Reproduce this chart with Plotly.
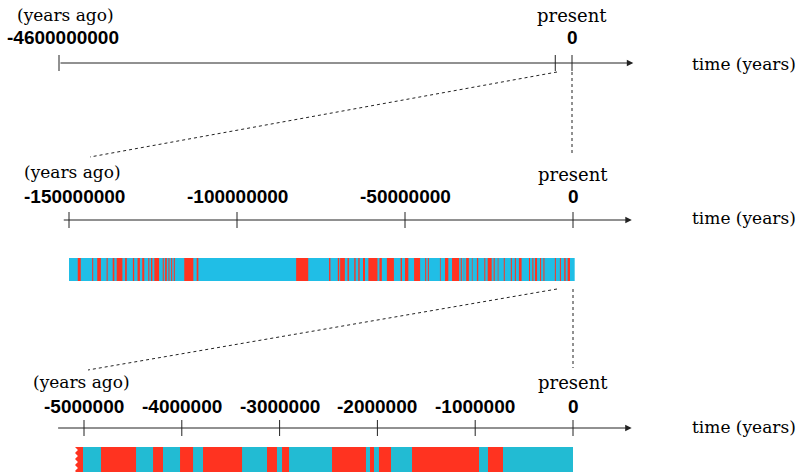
import plotly.graph_objects as go

W, H = 803, 472

# ---------------- data ----------------
top_ticks = [-4600000000, 0]
top_zoom_tick = -150000000
mid_ticks = [-150000000, -100000000, -50000000, 0]
bot_ticks = [-5000000, -4000000, -3000000, -2000000, -1000000, 0]

# reversed-polarity intervals (Ma ago: older, younger), middle bar (0-150 Ma)
mid_reversed = [
    (147.4, 146.5), (143.1, 142.8), (141.6, 140.5), (138.8, 138.5), (137.0, 136.5),
    (135.8, 134.1), (133.3, 132.8), (131.0, 130.6), (129.6, 128.9), (128.2, 127.6),
    (126.4, 126.1), (125.6, 125.2), (124.6, 123.2), (122.1, 121.8), (121.4, 120.9),
    (120.4, 120.1), (119.6, 119.3), (118.8, 118.5), (115.7, 113.0), (112.0, 111.5),
    (82.4, 78.8), (72.6, 72.2), (70.0, 69.6), (69.3, 67.9), (67.1, 66.7),
    (65.1, 64.7), (63.9, 63.5), (62.5, 61.9), (60.9, 58.2), (57.6, 56.9),
    (55.4, 53.3), (51.3, 50.9), (50.0, 49.0), (47.3, 45.5), (44.0, 43.7),
    (43.2, 42.9), (39.6, 39.4), (38.1, 37.1), (36.0, 33.9), (33.4, 33.1),
    (32.5, 32.4), (31.8, 31.0), (30.1, 29.9), (28.6, 28.2), (26.4, 26.1),
    (25.4, 24.2), (23.6, 23.3), (22.4, 22.2), (20.6, 20.3), (18.5, 18.2),
    (17.3, 17.0), (16.1, 15.3), (13.1, 12.8), (12.1, 11.8), (11.3, 10.7),
    (9.8, 9.5), (8.8, 8.5), (5.4, 5.1), (3.9, 3.6), (2.6, 2.2), (1.6, 0.9),
]
mid_span = (150.0, -0.5)

# bottom bar (0-5 Ma)
bot_reversed = [
    (4.826, 4.468), (4.294, 4.192), (4.018, 3.885), (3.783, 3.384),
    (3.129, 3.027), (2.975, 2.904), (2.464, 2.117), (2.076, 2.035),
    (1.984, 1.861), (1.646, 0.961), (0.869, 0.716),
]
bot_span = (5.010, 0.0)
bot_jagged = (5.092, 5.010)   # reversed interval cut by the zig-zag edge

BLUE_MID = "#20BEE6"
BLUE_BOT = "#22BBD3"
RED = "#FF3320"
INK = "#222222"
TXT = "#000000"

SERIF = "DejaVu Serif"
SANS = "Liberation Sans"


def pixrange(v0, p0, v1, p1):
    """axis range so that value v0 lands on pixel p0 and v1 on pixel p1"""
    s = (p1 - p0) / (v1 - v0)
    return [v0 - p0 / s, v0 + (W - p0) / s]


rows = {
    "x": dict(rng=pixrange(0, 572, -4600000000, 59), axis_y=63, start=-4600000000, tip=5.5e8),
    "x2": dict(rng=pixrange(0, 573, -150000000, 69), axis_y=220, start=-152000000, tip=17.5e6),
    "x3": dict(rng=pixrange(0, 573, -5000000, 84), axis_y=428, start=-5280000, tip=0.6e6),
}

fig = go.Figure()
ann = []


def ticks(xref, vals, y, half=8):
    xs, ys = [], []
    for v in vals:
        xs += [v, v, None]
        ys += [y - half, y + half, None]
    fig.add_trace(go.Scatter(x=xs, y=ys, mode="lines", xaxis=xref, yaxis="y",
                             line=dict(color=INK, width=1), hoverinfo="skip", showlegend=False))


def label(xref, x, y, text, size, family, bold=False, anchor="center"):
    ann.append(dict(xref=xref, yref="y", x=x, y=y, text=("<b>%s</b>" % text) if bold else text,
                    showarrow=False, xanchor=anchor, yanchor="middle",
                    font=dict(family=family, size=size, color=TXT)))


def axis_arrow(xref, row):
    ann.append(dict(xref=xref, yref="y", axref=xref, ayref="y",
                    x=row["tip"], y=row["axis_y"], ax=row["start"], ay=row["axis_y"],
                    showarrow=True, arrowhead=2, arrowsize=1.3, arrowwidth=1,
                    arrowcolor=INK, text=""))


# --- top row
r = rows["x"]
axis_arrow("x", r)
ticks("x", top_ticks + [top_zoom_tick], r["axis_y"])
label("x", -4540000000, 15, "(years ago)", 17, SERIF)
label("x", -4560000000, 37, "-4600000000", 19, SANS, bold=True)
label("x", 0, 15, "present", 18, SERIF)
label("x", 0, 37, "0", 19, SANS, bold=True)

# --- middle row
r = rows["x2"]
axis_arrow("x2", r)
ticks("x2", mid_ticks, r["axis_y"])
label("x2", -149000000, 172, "(years ago)", 17, SERIF)
for v in mid_ticks:
    label("x2", v + (1500000 if v == mid_ticks[0] else 0), 196, str(v), 19, SANS, bold=True)
label("x2", 0, 174, "present", 18, SERIF)

# --- bottom row
r = rows["x3"]
axis_arrow("x3", r)
ticks("x3", bot_ticks, r["axis_y"])
label("x3", -5030000, 382, "(years ago)", 17, SERIF)
for v in bot_ticks:
    label("x3", v, 406, str(v), 19, SANS, bold=True)
label("x3", 0, 382, "present", 18, SERIF)

for yy in (64, 218, 427):
    ann.append(dict(xref="x4", yref="y", x=690, y=yy, text="time (years)", showarrow=False,
                    xanchor="left", yanchor="middle", font=dict(family=SERIF, size=17, color=TXT)))


def bars(xref, intervals, color, yc, h, scale):
    base = [-a * scale for a, b in intervals]
    width = [(a - b) * scale for a, b in intervals]
    fig.add_trace(go.Bar(x=width, base=base, y=[yc] * len(intervals), orientation="h",
                         width=h, xaxis=xref, yaxis="y", marker=dict(color=color, line=dict(width=0)),
                         hoverinfo="skip", showlegend=False))


bars("x2", [mid_span], BLUE_MID, 269.5, 23, 1e6)
bars("x2", mid_reversed, RED, 269.5, 23, 1e6)
bars("x3", [bot_span], BLUE_BOT, 462, 30, 1e6)
bars("x3", bot_reversed, RED, 462, 30, 1e6)

# jagged (cut) reversed interval at the left end of bottom bar
old, young = bot_jagged[0] * 1e6, bot_jagged[1] * 1e6
jag = 0.03e6
jy = [447, 450, 453, 456, 459, 462, 465, 468, 471, 474, 477]
jx = [-old + (jag if i % 2 else 0) for i in range(len(jy))]
fig.add_trace(go.Scatter(x=jx + [-young, -young], y=jy + [477, 447], fill="toself", mode="none",
                         fillcolor=RED, xaxis="x3", yaxis="y", hoverinfo="skip", showlegend=False))

# --- dotted zoom connectors (decorative, pixel coordinates on helper axis)
for (x0, y0, x1, y1) in [(557, 72, 90, 157), (572, 72, 572, 153),
                         (557, 289, 88, 370), (573, 289, 573, 368)]:
    fig.add_trace(go.Scatter(x=[x0, x1], y=[y0, y1], mode="lines", xaxis="x4", yaxis="y",
                             line=dict(color=INK, width=1, dash="dot"), hoverinfo="skip", showlegend=False))

hidden = dict(visible=False, showgrid=False, zeroline=False, domain=[0, 1])
fig.update_layout(
    width=W, height=H, margin=dict(l=0, r=0, t=0, b=0),
    paper_bgcolor="white", plot_bgcolor="white", barmode="overlay",
    xaxis=dict(hidden, range=rows["x"]["rng"]),
    xaxis2=dict(hidden, range=rows["x2"]["rng"], anchor="y", overlaying="x"),
    xaxis3=dict(hidden, range=rows["x3"]["rng"], anchor="y", overlaying="x"),
    xaxis4=dict(hidden, range=[0, W], anchor="y", overlaying="x"),
    yaxis=dict(visible=False, range=[H, 0], showgrid=False, zeroline=False),
    annotations=ann,
)

fig.write_html("out.html", config={"displayModeBar": False, "staticPlot": True},
               post_script="document.body.style.margin='0px';document.body.style.overflow='hidden';")
